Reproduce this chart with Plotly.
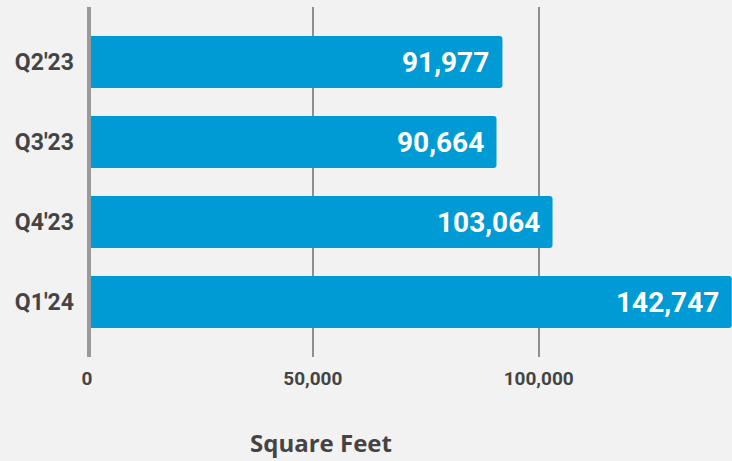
import plotly.graph_objects as go

# Quarterly square footage
quarters = ["Q2'23", "Q3'23", "Q4'23", "Q1'24"]
square_feet = [91977, 90664, 103064, 142747]
x_tick_values = [0, 50000, 100000]
x_tick_labels = ["0", "50,000", "100,000"]

BAR_BLUE = "#009bd4"
BG = "#f2f2f2"
TEXT = "#444444"

fig = go.Figure()

fig.add_trace(go.Bar(
    x=square_feet,
    y=quarters,
    orientation="h",
    width=0.65,
    marker=dict(color=BAR_BLUE, line=dict(width=0)),
    hoverinfo="skip",
))

# value labels placed just inside the end of each bar
for q, v in zip(quarters, square_feet):
    fig.add_annotation(
        x=v, y=q, xref="x", yref="y",
        text=f"{v:,}",
        showarrow=False,
        xanchor="right", yanchor="middle",
        xshift=-11,
        font=dict(family="Roboto", size=28, color="white", weight=700),
    )

# axis title below the tick labels
fig.add_annotation(
    x=0.3628, y=-0.245, xref="paper", yref="paper",
    text="Square Feet",
    showarrow=False,
    xanchor="center", yanchor="middle",
    font=dict(family="Open Sans", size=24, color=TEXT, weight=700),
)

# heavy baseline at zero
fig.add_shape(
    type="line", xref="x", yref="paper",
    x0=0, x1=0, y0=0, y1=1,
    line=dict(color="#9a9a9a", width=8),
    layer="above",
)

fig.update_layout(
    width=732,
    height=461,
    margin=dict(l=87, r=0, t=7, b=104),
    paper_bgcolor=BG,
    plot_bgcolor=BG,
    showlegend=False,
    barcornerradius=3,
    xaxis=dict(
        range=[0, 142800],
        tickvals=x_tick_values,
        ticktext=x_tick_labels,
        showgrid=True,
        gridcolor="#8f8f8f",
        gridwidth=1.5,
        zeroline=False,
        showline=False,
        ticks="",
        ticklabelstandoff=8,
        tickfont=dict(family="Roboto", size=19, color=TEXT, weight=700),
        fixedrange=True,
    ),
    yaxis=dict(
        categoryorder="array",
        categoryarray=quarters,
        range=[3.6875, -0.6875],
        showgrid=False,
        zeroline=False,
        showline=False,
        ticks="",
        ticklabelstandoff=12,
        tickfont=dict(family="Roboto", size=23, color=TEXT, weight=700),
        fixedrange=True,
    ),
)

fig.write_html("out.html")
